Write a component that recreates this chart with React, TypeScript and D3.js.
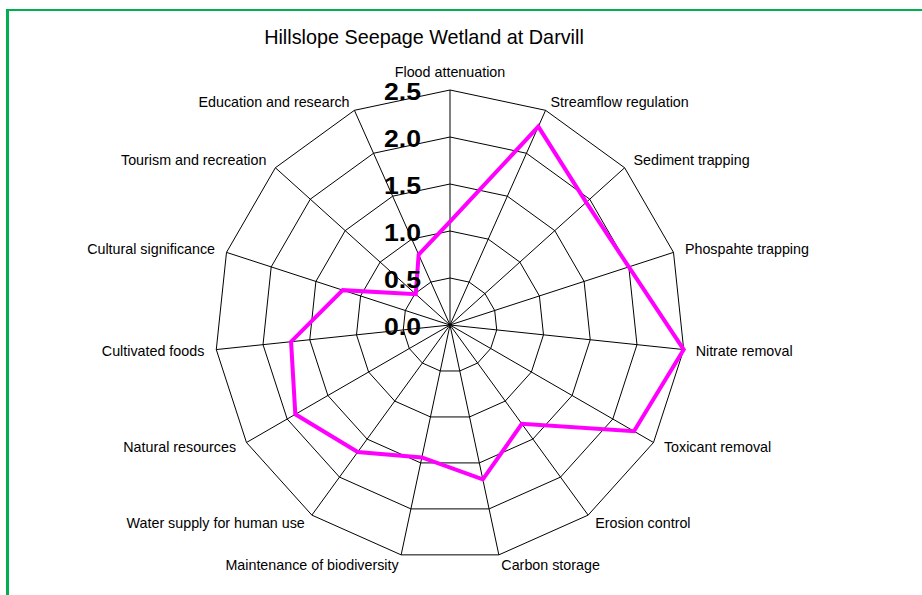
import React from "react";
import * as d3 from "d3";

const title = "Hillslope Seepage Wetland at Darvill";
const categories = [
  "Flood attenuation",
  "Streamflow regulation",
  "Sediment trapping",
  "Phospahte trapping",
  "Nitrate removal",
  "Toxicant removal",
  "Erosion control",
  "Carbon storage",
  "Maintenance of biodiversity",
  "Water supply for human use",
  "Natural resources",
  "Cultivated foods",
  "Cultural significance",
  "Tourism and recreation",
  "Education and research",
];
const values = [1.1, 2.31, 1.95, 2.0, 2.5, 2.26, 1.3, 1.68, 1.44, 1.67, 1.9, 1.7, 1.2, 0.49, 0.82];
const ticks = [0, 0.5, 1.0, 1.5, 2.0, 2.5];

const W = 922;
const H = 595;
const cx = 450;
const cy = 325;
const R = 235;

export default function App() {
  const r = d3.scaleLinear().domain([0, 2.5]).range([0, R]);
  const n = categories.length;
  const ang = d3
    .scaleLinear()
    .domain([0, n])
    .range([0, 2 * Math.PI]);
  const pt = (i: number, v: number): [number, number] => {
    const a = ang(i);
    return [cx + r(v) * Math.sin(a), cy - r(v) * Math.cos(a)];
  };
  const closed = d3.line<[number, number]>().curve(d3.curveLinearClosed);
  const idx = d3.range(n);

  return (
    <svg
      width={W}
      height={H}
      style={{ position: "absolute", left: 0, top: 0, background: "#fff" }}
      fontFamily="'Liberation Sans', Arial, sans-serif"
    >
      <rect x={0} y={0} width={W} height={H} fill="#fff" />
      <line x1={6} y1={10} x2={W} y2={10} stroke="#00b050" strokeWidth={2} />
      <line x1={7.5} y1={9} x2={7.5} y2={H} stroke="#00b050" strokeWidth={3} />
      <text x={424} y={44} fontSize={19.8} textAnchor="middle" fill="#000">
        {title}
      </text>
      {ticks.slice(1).map((t) => (
        <path
          key={"ring" + t}
          d={closed(idx.map((i) => pt(i, t))) || ""}
          fill="none"
          stroke="#000"
          strokeWidth={1}
        />
      ))}
      {idx.map((i) => {
        const [x, y] = pt(i, 2.5);
        return <line key={"sp" + i} x1={cx} y1={cy} x2={x} y2={y} stroke="#000" strokeWidth={1} />;
      })}
      <path
        d={closed(idx.map((i) => pt(i, values[i]))) || ""}
        fill="none"
        stroke="#ff00ff"
        strokeWidth={4}
        strokeLinejoin="miter"
      />
      {ticks.map((t) => (
        <text
          key={"t" + t}
          x={421}
          y={cy - r(t) + 9.5}
          fontSize={23}
          fontWeight="bold"
          textAnchor="end"
          textLength={37}
          lengthAdjust="spacingAndGlyphs"
          fill="#000"
        >
          {d3.format(".1f")(t)}
        </text>
      ))}
      {categories.map((c, i) => {
        const a = ang(i);
        const s = Math.sin(a);
        const co = Math.cos(a);
        const x = cx + (R + 12) * s;
        let y = cy - (R + 12) * co;
        if (co > 0.95) y -= 6;
        else if (co > 0.85) y += 3;
        else if (co < -0.4) y -= 2;
        const anchor = Math.abs(s) < 0.05 ? "middle" : s > 0 ? "start" : "end";
        return (
          <text
            key={"c" + i}
            x={x}
            y={y}
            dy="0.35em"
            fontSize={14.3}
            textAnchor={anchor}
            fill="#000"
          >
            {c}
          </text>
        );
      })}
    </svg>
  );
}
